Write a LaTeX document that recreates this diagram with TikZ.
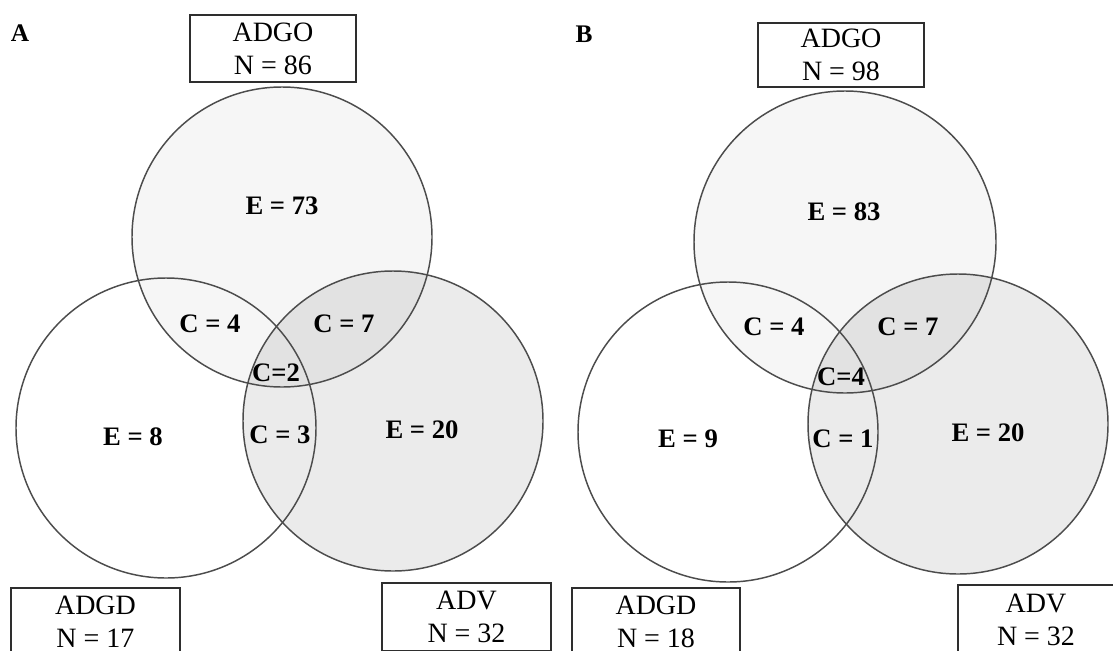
\documentclass[tikz,border=0pt]{standalone}
\usepackage{fontspec}
\setmainfont{Liberation Serif}
\begin{document}
\begin{tikzpicture}[x=0.75pt,y=-0.75pt,
  ring/.style={draw=black!70,line width=1.1pt},
  setbox/.style={draw=black!82,line width=1.5pt,align=center,inner sep=0pt,
    font=\fontsize{21}{24.75}\selectfont},
  count/.style={font=\fontsize{20}{24}\selectfont\bfseries,inner sep=0pt},
  panel/.style={font=\fontsize{19}{22}\selectfont\bfseries,inner sep=0pt}]
\clip (0,0) rectangle (1113,650);
\fill[white] (0,0) rectangle (1113,650);

% ---------- panel A ----------
\fill[black,fill opacity=0.035] (282,237) circle[radius=150];
\fill[black,fill opacity=0.08] (393,421) circle[radius=150];
\draw[ring] (282,237) circle[radius=150];
\draw[ring] (166,428) circle[radius=150];
\draw[ring] (393,421) circle[radius=150];

\node[panel] (pA) at (20,33) {A};
\node[setbox,minimum width=124.5pt,minimum height=50.25pt] (goA) at (273,48.5) {ADGO\\N = 86};
\node[setbox,minimum width=126.75pt,minimum height=50.25pt] (gdA) at (95.5,621.5) {ADGD\\N = 17};
\node[setbox,minimum width=126.75pt,minimum height=51pt] (vA) at (466.5,617) {ADV\\N = 32};

\node[count] (eA1) at (282,206) {E = 73};
\node[count] (eA2) at (133,437) {E = 8};
\node[count] (eA3) at (422,430) {E = 20};
\node[count] (cA1) at (210,324) {C = 4};
\node[count] (cA2) at (344,324) {C = 7};
\node[count] (cA3) at (276,373) {C=2};
\node[count] (cA4) at (280,435) {C = 3};

% ---------- panel B ----------
\fill[black,fill opacity=0.035] (845,242) circle[radius=151];
\fill[black,fill opacity=0.08] (958,424) circle[radius=150];
\draw[ring] (845,242) circle[radius=151];
\draw[ring] (728,432) circle[radius=150];
\draw[ring] (958,424) circle[radius=150];

\node[panel] (pB) at (584,34) {B};
\node[setbox,minimum width=124.5pt,minimum height=48pt] (goB) at (841,55) {ADGO\\N = 98};
\node[setbox,minimum width=126pt,minimum height=51pt] (gdB) at (656,622) {ADGD\\N = 18};
\node[setbox,minimum width=117pt,minimum height=52pt] (vB) at (1036,620) {ADV\\N = 32};

\node[count] (eB1) at (844,212) {E = 83};
\node[count] (eB2) at (688,439) {E = 9};
\node[count] (eB3) at (988,433) {E = 20};
\node[count] (cB1) at (774,327) {C = 4};
\node[count] (cB2) at (908,327) {C = 7};
\node[count] (cB3) at (841,377) {C=4};
\node[count] (cB4) at (843,439) {C = 1};
\end{tikzpicture}
\end{document}
